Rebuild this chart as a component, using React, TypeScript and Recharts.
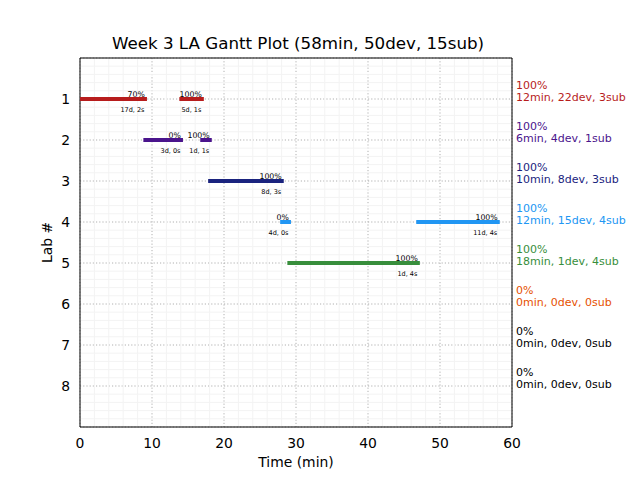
import { ScatterChart, Scatter, XAxis, YAxis, CartesianGrid, ReferenceLine } from "recharts";

// labs and their colours
const labs = [1, 2, 3, 4, 5, 6, 7, 8];
const labColors = ["#b71c1c", "#4a148c", "#1a237e", "#2196f3", "#388e3c", "#e65100", "#000000", "#000000"];
const labPct = ["100%", "100%", "100%", "100%", "100%", "0%", "0%", "0%"];
const labSummary = [
  "12min, 22dev, 3sub",
  "6min, 4dev, 1sub",
  "10min, 8dev, 3sub",
  "12min, 15dev, 4sub",
  "18min, 1dev, 4sub",
  "0min, 0dev, 0sub",
  "0min, 0dev, 0sub",
  "0min, 0dev, 0sub",
];

// gantt segments (minutes)
const segLab = [1, 1, 2, 2, 3, 4, 4, 5];
const segStart = [0, 13.8, 8.8, 16.7, 17.8, 27.8, 46.7, 28.8];
const segEnd = [9.3, 17.2, 14.3, 18.3, 28.3, 29.3, 58.3, 47.2];
const segPct = ["70%", "100%", "0%", "100%", "100%", "0%", "100%", "100%"];
const segInfo = ["17d, 2s", "5d, 1s", "3d, 0s", "1d, 1s", "8d, 3s", "4d, 0s", "11d, 4s", "1d, 4s"];

const xTicks = [0, 10, 20, 30, 40, 50, 60];
const xMinor = [2, 4, 6, 8, 12, 14, 16, 18, 22, 24, 26, 28, 32, 34, 36, 38, 42, 44, 46, 48, 52, 54, 56, 58];
const yMinor: number[] = [];
for (let i = 1; i < 45; i++) if (i % 5 !== 0) yMinor.push(i / 5);

const FONT = "DejaVu Sans, sans-serif";

const segments = segLab.map((lab, i) => ({
  key: i,
  color: labColors[lab - 1],
  points: [
    { x: segStart[i], y: lab },
    { x: segEnd[i], y: lab },
  ],
  label: { x: segEnd[i], y: lab, pct: segPct[i], info: segInfo[i] },
}));

const SegLabel = (props: any) => {
  const { cx, cy, payload } = props;
  return (
    <g fontFamily={FONT} fill="#000">
      <text x={cx - 2} y={cy - 2.5} textAnchor="end" fontSize={7.8}>
        {payload.pct}
      </text>
      <text x={cx - 2.5} y={cy + 13} textAnchor="end" fontSize={6.5}>
        {payload.info}
      </text>
    </g>
  );
};

const RightTick = (props: any) => {
  const { x, y, payload } = props;
  const i = labs.indexOf(payload.value);
  if (i < 0) return <g />;
  return (
    <g fontFamily={FONT} fontSize={11} fill={labColors[i]}>
      <text x={x} y={y - 10.5}>{labPct[i]}</text>
      <text x={x} y={y + 1.5}>{labSummary[i]}</text>
    </g>
  );
};

const tickStyle = { fill: "#000", fontSize: 13.9, fontFamily: FONT };

export default function App() {
  return (
    <div style={{ position: "absolute", left: 0, top: 0, width: 640, height: 480, background: "#fff" }}>
      <div
        style={{
          position: "absolute",
          left: 0,
          width: 596,
          top: 33,
          textAlign: "center",
          fontFamily: FONT,
          fontSize: 16.7,
          color: "#000",
          lineHeight: "20px",
        }}
      >
        Week 3 LA Gantt Plot (58min, 50dev, 15sub)
      </div>
      <ScatterChart width={640} height={480} margin={{ top: 58, right: 0, left: 0, bottom: 0 }}>
        <XAxis
          type="number"
          dataKey="x"
          domain={[0, 60]}
          ticks={xTicks}
          height={53}
          tickLine={false}
          tickSize={6}
          tickMargin={5}
          tick={tickStyle}
          axisLine={{ stroke: "#000", strokeWidth: 1 }}
          allowDataOverflow
          label={{ value: "Time (min)", position: "insideBottom", offset: 13, fill: "#000", fontSize: 13.9, fontFamily: FONT }}
        />
        <YAxis
          yAxisId="left"
          type="number"
          dataKey="y"
          domain={[0, 9]}
          reversed
          ticks={labs}
          width={80}
          tickLine={false}
          tickSize={6}
          tickMargin={4}
          tick={tickStyle}
          axisLine={{ stroke: "#000", strokeWidth: 1 }}
          allowDataOverflow
          label={{
            content: (p: any) => {
              const vb = p.viewBox;
              const cx = vb.x + 47;
              const cy = vb.y + vb.height / 2;
              return (
                <text
                  x={cx}
                  y={cy}
                  transform={`rotate(-90, ${cx}, ${cy})`}
                  textAnchor="middle"
                  dominantBaseline="central"
                  fontSize={13.9}
                  fontFamily={FONT}
                  fill="#000"
                >
                  Lab #
                </text>
              );
            },
          }}
        />
        <YAxis
          yAxisId="right"
          orientation="right"
          type="number"
          domain={[0, 9]}
          reversed
          ticks={labs}
          width={128}
          tickLine={false}
          tickSize={0}
          tickMargin={4}
          tick={<RightTick />}
          axisLine={{ stroke: "#000", strokeWidth: 1 }}
          allowDataOverflow
        />
        {xMinor.map((v) => (
          <ReferenceLine key={"xm" + v} x={v} yAxisId="left" stroke="#f3f3f3" strokeWidth={1} />
        ))}
        {yMinor.map((v) => (
          <ReferenceLine key={"ym" + v} y={v} yAxisId="left" stroke="#f3f3f3" strokeWidth={1} />
        ))}
        <CartesianGrid yAxisId="left" stroke="#b0b0b0" strokeDasharray="1.2 2" />
        <ReferenceLine y={0} yAxisId="left" stroke="#000" strokeWidth={1} />
        {segments.map((s) => (
          <Scatter
            key={"seg" + s.key}
            yAxisId="left"
            data={s.points}
            line={{ stroke: s.color, strokeWidth: 4 }}
            shape={() => <g />}
            isAnimationActive={false}
          />
        ))}
        <Scatter
          yAxisId="left"
          data={segments.map((s) => s.label)}
          shape={<SegLabel />}
          isAnimationActive={false}
        />
      </ScatterChart>
    </div>
  );
}
